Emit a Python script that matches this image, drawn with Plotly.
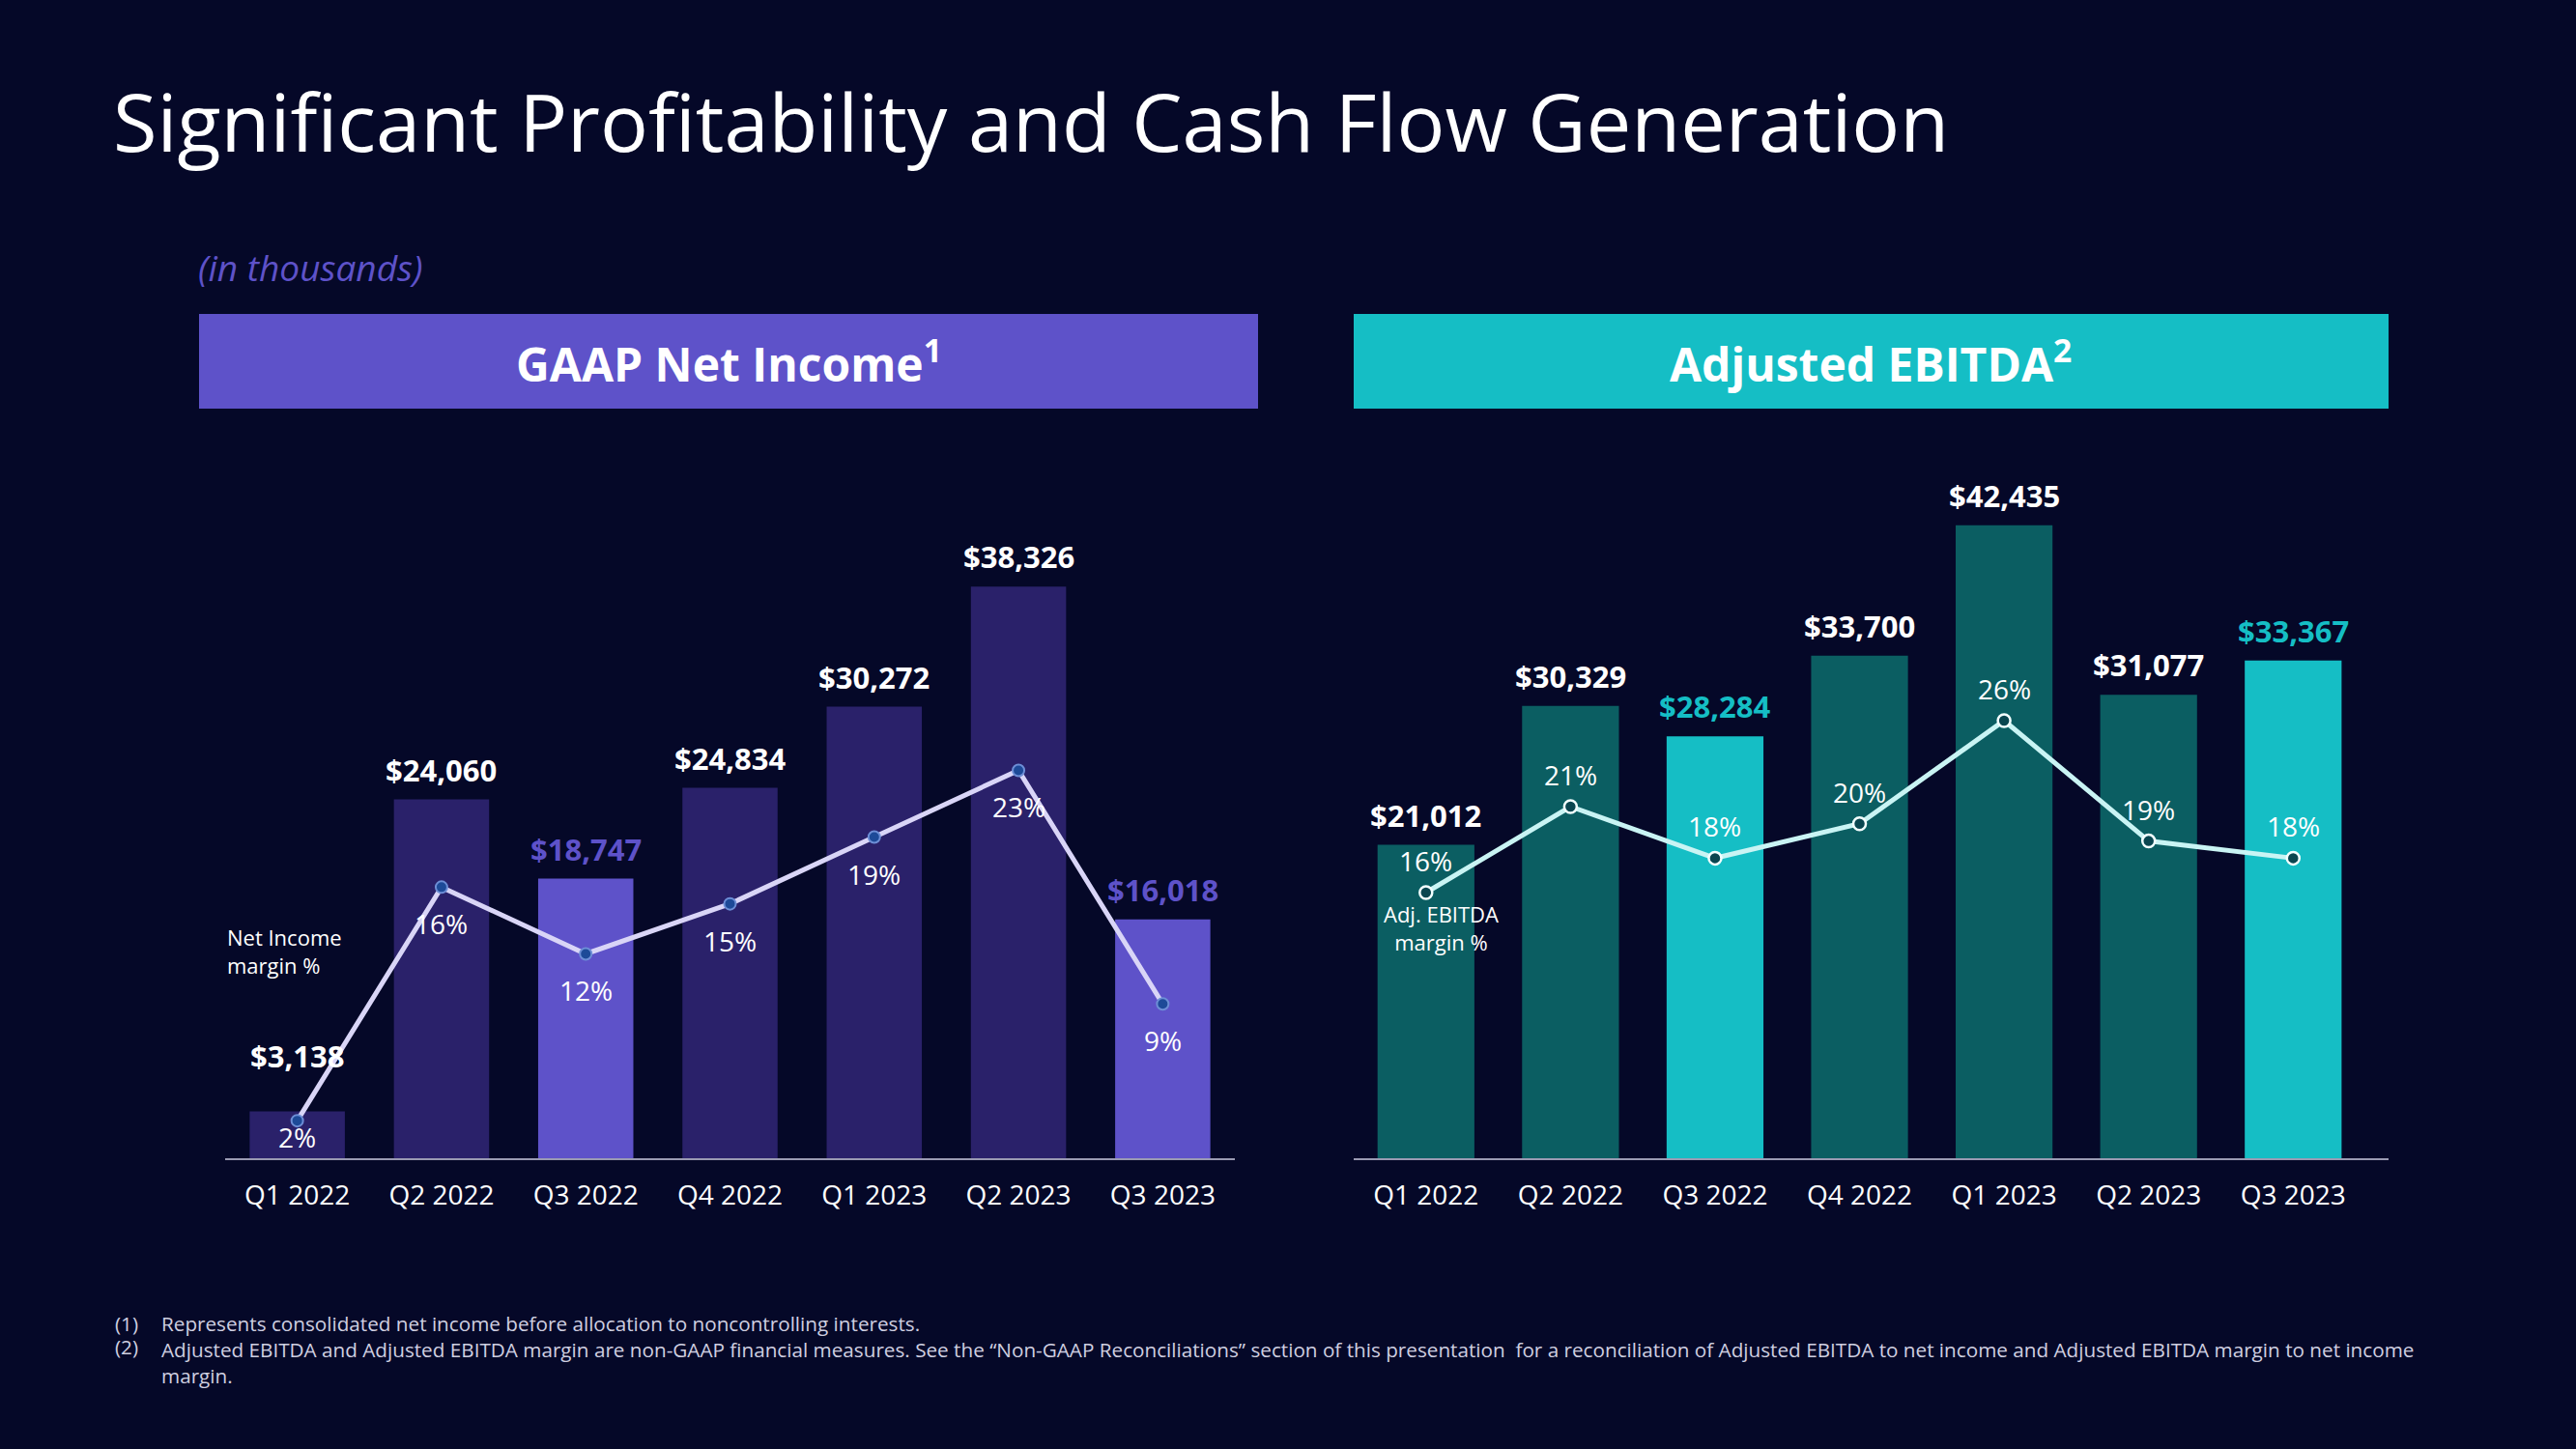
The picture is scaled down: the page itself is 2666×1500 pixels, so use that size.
import plotly.graph_objects as go

# ---------------- data ----------------
quarters = ["Q1 2022", "Q2 2022", "Q3 2022", "Q4 2022", "Q1 2023", "Q2 2023", "Q3 2023"]
net_income = [3138, 24060, 18747, 24834, 30272, 38326, 16018]
net_income_margin = [2, 16, 12, 15, 19, 23, 9]
adj_ebitda = [21012, 30329, 28284, 33700, 42435, 31077, 33367]
adj_ebitda_margin = [16, 21, 18, 20, 26, 19, 18]
highlight = [False, False, True, False, False, False, True]

title_text = "Significant Profitability and Cash Flow Generation"
subtitle_text = "(in thousands)"
left_header = "GAAP Net Income<sup>1</sup>"
right_header = "Adjusted EBITDA<sup>2</sup>"
footnote_marks = ["(1)", "(2)"]
footnotes = [
    "Represents consolidated net income before allocation to noncontrolling interests.",
    "Adjusted EBITDA and Adjusted EBITDA margin are non-GAAP financial measures. See the \u201cNon-GAAP Reconciliations\u201d section of this presentation  for a reconciliation of Adjusted EBITDA to net income and Adjusted EBITDA margin to net income<br>margin.",
]

# ---------------- styling ----------------
W, H = 2666, 1500
BG = "#050828"
PURPLE_DARK = "#2A216A"
PURPLE = "#5E52C9"
TEAL_DARK = "#0B5E62"
TEAL = "#15BEC5"
FONT = "Open Sans"


def px(x):
    return x / W


def py(y):
    return 1 - y / H


base_px = 1199
top_px = 440
plot_h = base_px - top_px
bar_scale = 15.44 / 1000  # px per thousand
y_max = plot_h / bar_scale

left_pct_scale = 17.27   # px per percentage point
left_pct_start = -0.25
right_pct_scale = 17.8
right_pct_start = 0.55

fig = go.Figure()

fig.add_trace(go.Bar(
    x=quarters, y=net_income, xaxis="x", yaxis="y", width=0.66,
    marker=dict(color=[PURPLE if h else PURPLE_DARK for h in highlight], line=dict(width=0)),
    hoverinfo="skip",
))
fig.add_trace(go.Scatter(
    x=quarters, y=net_income_margin, xaxis="x", yaxis="y2", mode="lines+markers",
    line=dict(color="#D9D5F7", width=5),
    marker=dict(size=12, color="#1D4A98", line=dict(color="#6D8ED6", width=2)),
    hoverinfo="skip",
))
fig.add_trace(go.Bar(
    x=quarters, y=adj_ebitda, xaxis="x2", yaxis="y3", width=0.67,
    marker=dict(color=[TEAL if h else TEAL_DARK for h in highlight], line=dict(width=0)),
    hoverinfo="skip",
))
fig.add_trace(go.Scatter(
    x=quarters, y=adj_ebitda_margin, xaxis="x2", yaxis="y4", mode="lines+markers",
    line=dict(color="#C9F4F4", width=5),
    marker=dict(size=13, color="#0A4650", line=dict(color="#F2FFFF", width=2.5)),
    hoverinfo="skip",
))

annotations = []

# bar value labels (short bars get their label lifted clear of the margin line)
for q, v, h in zip(quarters, net_income, highlight):
    annotations.append(dict(
        x=q, y=v, xref="x", yref="y", text=f"<b>${v:,}</b>", showarrow=False,
        yanchor="middle", yshift=31 if v * bar_scale > 100 else 58,
        font=dict(family=FONT, size=31, color=PURPLE if h else "white"),
    ))
for q, v, h in zip(quarters, adj_ebitda, highlight):
    annotations.append(dict(
        x=q, y=v, xref="x2", yref="y3", text=f"<b>${v:,}</b>", showarrow=False,
        yanchor="middle", yshift=31,
        font=dict(family=FONT, size=31, color=TEAL if h else "white"),
    ))

# margin labels (below points on the left, kept above the baseline)
for q, m in zip(quarters, net_income_margin):
    height_above_base = (m - left_pct_start) * left_pct_scale
    shift = max(-38, 22 - height_above_base)
    annotations.append(dict(
        x=q, y=m, xref="x", yref="y2", text=f"{m}%", showarrow=False,
        yanchor="middle", yshift=shift,
        font=dict(family=FONT, size=28, color="white"),
    ))
for q, m in zip(quarters, adj_ebitda_margin):
    annotations.append(dict(
        x=q, y=m, xref="x2", yref="y4", text=f"{m}%", showarrow=False,
        yanchor="middle", yshift=33,
        font=dict(family=FONT, size=28, color="white"),
    ))

# series labels
annotations.append(dict(
    x=px(233), y=py(985), xref="paper", yref="paper", xanchor="left", yanchor="middle",
    text="Net Income<br>margin %", showarrow=False, align="left",
    font=dict(family=FONT, size=22, color="white"),
))
annotations.append(dict(
    x=px(1491), y=py(960), xref="paper", yref="paper", xanchor="center", yanchor="middle",
    text="Adj. EBITDA<br>margin %", showarrow=False, align="center",
    font=dict(family=FONT, size=22, color="white"),
))

# title / subtitle / headers
annotations.append(dict(
    x=px(115), y=py(124), xref="paper", yref="paper", xanchor="left", yanchor="middle",
    text=title_text, showarrow=False, font=dict(family=FONT, size=83, color="white"),
))
annotations.append(dict(
    x=px(203), y=py(277), xref="paper", yref="paper", xanchor="left", yanchor="middle",
    text=f"<i>{subtitle_text}</i>", showarrow=False, font=dict(family=FONT, size=37, color=PURPLE),
))
annotations.append(dict(
    x=px(754), y=py(374), xref="paper", yref="paper", xanchor="center", yanchor="middle",
    text=f"<b>{left_header}</b>", showarrow=False, font=dict(family=FONT, size=48, color="white"),
))
annotations.append(dict(
    x=px(1936), y=py(374), xref="paper", yref="paper", xanchor="center", yanchor="middle",
    text=f"<b>{right_header}</b>", showarrow=False, font=dict(family=FONT, size=48, color="white"),
))

# footnotes
foot_y = [1370, 1394]
for mark, note, fy in zip(footnote_marks, footnotes, foot_y):
    annotations.append(dict(
        x=px(117), y=py(fy), xref="paper", yref="paper", xanchor="left", yanchor="middle",
        text=mark, showarrow=False, font=dict(family=FONT, size=20.7, color="#CFCFE0"),
    ))
    annotations.append(dict(
        x=px(165), y=py(fy), xref="paper", yref="paper", xanchor="left",
        yanchor="top" if "<br>" in note else "middle", yshift=13 if "<br>" in note else 0,
        text=note, showarrow=False, align="left",
        font=dict(family=FONT, size=20.7, color="#CFCFE0"),
    ))

shapes = [
    dict(type="rect", xref="paper", yref="paper", x0=px(206), x1=px(1302), y0=py(423), y1=py(325),
         fillcolor=PURPLE, line=dict(width=0), layer="below"),
    dict(type="rect", xref="paper", yref="paper", x0=px(1401), x1=px(2472), y0=py(423), y1=py(325),
         fillcolor=TEAL, line=dict(width=0), layer="below"),
]

xaxis_common = dict(
    type="category", showline=True, linecolor="#9A9AB2", linewidth=2, showgrid=False,
    zeroline=False, ticks="", tickfont=dict(family=FONT, size=28, color="white"),
    ticklabelstandoff=12, fixedrange=True,
)

fig.update_layout(
    width=W, height=H, margin=dict(l=0, r=0, t=0, b=0),
    paper_bgcolor=BG, plot_bgcolor=BG, showlegend=False, bargap=0.34,
    xaxis=dict(domain=[px(233), px(1278)], anchor="y", range=[-0.5, 6.5], **xaxis_common),
    xaxis2=dict(domain=[px(1401), px(2472)], anchor="y3", range=[-0.5, 6.66], **xaxis_common),
    yaxis=dict(domain=[py(base_px), py(top_px)], range=[0, y_max], visible=False, anchor="x"),
    yaxis2=dict(overlaying="y", anchor="x",
                range=[left_pct_start, left_pct_start + plot_h / left_pct_scale], visible=False),
    yaxis3=dict(domain=[py(base_px), py(top_px)], range=[0, y_max], visible=False, anchor="x2"),
    yaxis4=dict(overlaying="y3", anchor="x2",
                range=[right_pct_start, right_pct_start + plot_h / right_pct_scale], visible=False),
    annotations=annotations, shapes=shapes,
)

fig.write_html("out.html")
